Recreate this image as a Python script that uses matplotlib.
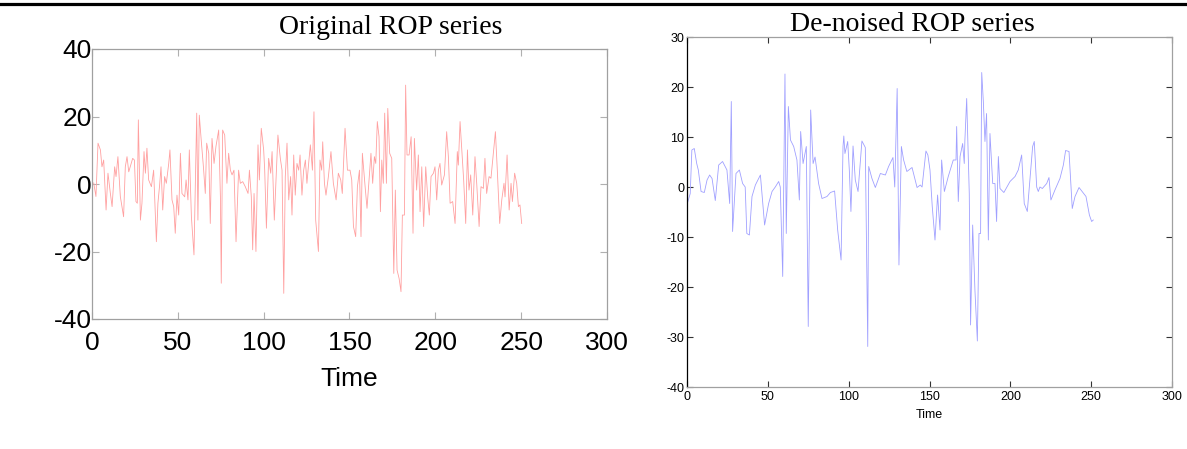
import matplotlib
matplotlib.use("Agg")
import matplotlib.pyplot as plt
from matplotlib.lines import Line2D

# original ROP series (time, value)
orig_t = [1, 2.3, 3.5, 4.9, 5.8, 6.8, 8.2, 9.3, 10.7, 11.7, 13.2, 14, 15.1, 16.5, 18.4, 19.4, 20.4, 21.4,
          23.7, 24.7, 25.6, 26.4, 27, 28.2, 29.1, 30.3, 31.1, 32, 33, 34.6, 35.9, 37.5, 38.4, 39.4, 40.2,
          41.2, 42.3, 43.3, 44.7, 45.4, 46.6, 47.6, 48.5, 49.5, 50.5, 51.5, 52.4, 54, 54.8, 55.9, 56.7,
          57.9, 59.4, 61, 61.7, 62.5, 63.7, 64.9, 66, 66.8, 68, 68.9, 69.9, 71.1, 72.2, 73.8, 74.8, 75.3,
          76.1, 77.3, 78.6, 79.6, 80.6, 81.6, 82.7, 83.9, 85.4, 86.4, 87.8, 89.3, 90.9, 91.7, 92.8, 93.6,
          94.4, 95.5, 96.7, 97.5, 98.6, 100, 100.6, 101.6, 102.9, 104.1, 104.9, 106.2, 107.4, 108.3,
          109.7, 110.7, 111.7, 112.6, 113.6, 114.6, 115.7, 116.5, 117.5, 118.4, 119.4, 120.4, 121.2,
          122.3, 123.3, 124.3, 125.2, 126.2, 127.2, 128.4, 129.3, 130.3, 131.9, 132.8, 133.8, 134.4,
          135.4, 136.3, 137.7, 139.2, 140.6, 142.2, 143.5, 144.9, 145.8, 147.4, 148.8, 150.3, 151.3,
          152.3, 153.6, 154.6, 155.8, 156.7, 157.5, 159.1, 160.2, 161.4, 162.5, 163.5, 164.5, 165.3,
          166.2, 167.2, 168, 168.8, 169.7, 170.5, 171.5, 172.3, 173.4, 174.6, 175.8, 176.7, 177.7,
          178.9, 180, 180.8, 182, 182.7, 183.5, 184.7, 185.9, 187, 187.8, 189.1, 190.1, 191.1, 192.1,
          193.2, 194.4, 195.6, 196.5, 197.5, 198.9, 199.8, 200.8, 201.8, 202.7, 203.7, 205.3, 206.6,
          207.6, 208.6, 210.1, 211.5, 212.8, 213.4, 214.4, 215.4, 216.5, 217.7, 218.7, 219.6, 220.6,
          221.8, 223.1, 224.1, 225.5, 226.6, 228, 228.9, 229.9, 231.3, 232.4, 233.8, 235, 236.1, 237.5,
          238.7, 240, 240.6, 241.8, 243, 244.1, 244.9, 246.2, 247.4, 248.4, 249.3, 250.3]
orig_v = [0.3, -3.7, 12.1, 10.1, 5.1, 7.1, -7.7, 3.2, -2.8, -6.7, 5.1, 2.2, 8.1, -3.7, -9.7, 5.1, 8.1, 3.6,
          7.6, 7.1, -5.2, -5.7, 19, -10.7, -5.7, 9.6, 3.2, 10.6, 1.2, -0.8, 4.1, -17.1, -5.7, -0.3, 5.1,
          -7.7, 2.2, 0.2, 6.1, 10.1, -4.7, -6.7, -14.6, -3.3, -9.2, 9.1, -2.8, -3.8, 1.2, -4.7, 10.1,
          -9.7, -21, 21, -10.7, 20.4, 12.5, 5.1, -2.8, 12.1, 9.1, -11.7, 13.5, 6.1, 11.1, 16, -3.8, -29.4,
          16, 14.5, 0.2, 9.1, 4.1, 2.7, 4.1, -17.1, 4.1, 0.2, 0.7, -0.8, -2.8, 4.1, -3.8, -19.5,
          -2.8, -20, 11.6, 1.2, 16.5, 10.1, 4.1, -13.1, 7.6, 3.2, 9.6, -10.7, 4.1, 14.5,
          7.6, 4.1, -32.4, 2.2, 12.1, -4.7, 2.2, -9.2, 8.6, -3.3, 6.1, 4.1, 8.6,
          -3.3, 4.1, 7.1, 0.2, 6.1, 11.6, 4.1, 21.4, -10.7, -20, 7.1, 4.1, 12.5,
          0.2, -3.3, 2.2, 9.6, 0.2, -4.7, 3.2, 1.2, -2.8, 16.5, 4.1, 4.1, 1.2,
          -12.6, -15.6, -0.8, 4.1, -15.6, 9.1, -0.8, -7.2, 1.2, 9.1, 0.2, 8.1, 6.1,
          18.5, 14, -8.2, 7.1, 0.2, 21, 0.2, 22.4, 9.1, 7.6, -26.5, -1.8, -25.5,
          -28, -31.9, -9.2, -9.2, 29.3, 8.6, 8.6, 14, -14.6, 13.5, -1.8, 8.6, -8.2, 5.1,
          -12.6, 5.1, -4.2, -9.2, 2.2, 3.2, 5.1, -4.7, 4.1, 6.1, -0.3, 2.7, 15.5,
          8.1, -5.7, -5.2, -11.7, 9.6, 5.6, 18.5, 10.1, 1.2, -11.7, 10.1, -1.8, 2.7,
          -9.2, 8.1, 0.2, -12.6, -0.8, -1.3, 7.6, -2.8, 2.2, 1.7, 9.1, 15.5, 4.1, -11.7,
          -4.7, 0.2, -3.8, 8.6, -7.7, 0.2, -5.2, 3.2, 0.2, -6.7, -6.2, -11.7]

# de-noised ROP series (time, value)
den_t = [0, 2, 3, 4.5, 6, 7, 8.7, 10.7, 12.4, 14, 15.5, 17.5, 19.6, 22, 24.7, 26.4, 27.4, 28.2, 30.3,
         32.4, 34.4, 36, 37, 38.6, 40.2, 42.3, 44.3, 45.4, 48, 50.5, 52.6, 54.6, 56.7, 57.7, 59.2,
         60.6, 61.4, 62.7, 64, 66, 68, 69.5, 70.3, 71.8, 73.8, 75, 76.5, 78, 79.2, 81.4, 83.5, 86.6,
         88.7, 91.3, 93.2, 95.3, 96.5, 97, 97.7, 99.4, 100.4, 101.4, 102.7, 104.1, 105.8, 108.2,
         110.3, 111.8, 112.4, 114.4, 116.5, 119.6, 122.7, 124.7, 127.4, 128.5, 130, 131.1, 132.6,
         134, 136, 139.2, 142.3, 144.3, 145.4, 147.8, 149, 150.3, 151.7, 153.4, 155, 156.5, 157.5,
         159.2, 161.6, 164.7, 166.4, 166.8, 167.8, 168.9, 170.5, 171.5, 171.9, 173, 174.6, 175.4,
         176.7, 178.1, 179.6, 180.6, 181.6, 182.3, 183.3, 184.3, 185.3, 186.4, 187.4, 189.1, 190.5,
         191.5, 192.6, 193.6, 196, 199.8, 202.9, 204.9, 207, 208.6, 210.5, 212.1, 213.8, 214.8,
         216.3, 217.3, 218.3, 219.8, 222.5, 223.9, 225.1, 227.6, 230.7, 232.8, 234.2, 236.3, 238.3,
         240, 242.5, 246.8, 248.9, 250.3, 251.3]
den_v = [-3.5, -1.3, 7.4, 7.7, 4.7, 3.4, -0.9, -1.1, 1.4, 2.4, 1.7, -2.7, 4.4, 5.1, 3.4, -3.3, 17.1, -8.9,
         2.7, 3.4, 0.7, 0, -9.3, -9.6, -1.9, 0.4, 1.7, 2.4, -7.6, -3.3, -0.9, 0, 1.1, 0, -17.9,
         22.6, -9.3, 16.1, 9.4, 8.1, 5.4, -2.6, 11.1, 4.7, 8.1, -27.9, 15.4, 4.7, 6, 0.7, -2.3, -1.9,
         -1.1, -0.8, -8.6, -14.6, 8.1, 10.2, 6.7, 9.1, 3.4, -4.9, 8.2, 1.4, -0.9, 9.2,
         7.9, -31.9, 4.1, 1.7, -0.1, 2.7, 2.4, 4.1, 5.9, 0, 19.7, -15.6, 8.1,
         5.4, 3.1, 3.9, -0.1, 0.4, 0, 7.2, 6.4, 3.4, -3.9, -10.6, -1.6, -8.6, 5.4,
         -0.9, 2.1, 5.4, 5.4, 12.1, -2.9, 6.1, 8.7, 4.7, 9.4, 17.7, -1.3, -27.6,
         -7.6, -20.6, -30.8, -9.3, -9.3, 22.9, 17.1, 9.1, 14.7, -10.6, 10.7, 0.7, 0.7,
         -6.9, 6.1, -0.3, -1.1, 1.1, 2.1, 3.4, 6.4, -3.3, -4.9, 1.4, 8.1, 9.1,
         0, -0.9, 0, -0.3, 0.7, 1.9, -2.6, -0.6, 1.7, 4.4, 7.3, 7.1, -4.3,
         -1.9, -0.1, -1.9, -5.6, -6.9, -6.6]

x_ticks = [0, 50, 100, 150, 200, 250, 300]
left_y_ticks = [-40, -20, 0, 20, 40]
right_y_ticks = [-40, -30, -20, -10, 0, 10, 20, 30]

plt.rcParams['axes.unicode_minus'] = False

fig = plt.figure(figsize=(11.87, 4.49), dpi=100)

# rule line at the very top (page edge of the scan)
fig.add_artist(Line2D([0, 1], [1 - 3.5 / 449, 1 - 3.5 / 449], color='black', lw=2.3))

sans = ['Liberation Sans', 'DejaVu Sans']
serif = ['Liberation Serif', 'DejaVu Serif']

# left panel - original series
ax1 = fig.add_axes([92 / 1187, 1 - 319 / 449, 515 / 1187, 270 / 449])
ax1.plot(orig_t, orig_v, color='#ffa0a0', lw=0.6)
ax1.set_xlim(0, 300)
ax1.set_ylim(-40, 40)
ax1.set_xticks(x_ticks)
ax1.set_yticks(left_y_ticks)
ax1.tick_params(direction='in', length=5, color='#b0b0b0', labelsize=19, pad=9,
                top=True, right=True)
ax1.tick_params(axis='y', pad=0)
for lbl in ax1.get_xticklabels() + ax1.get_yticklabels():
    lbl.set_family(sans)
for sp in ax1.spines.values():
    sp.set_color('#a0a0a0')
    sp.set_linewidth(0.9)
ax1.set_xlabel('Time', fontsize=19, family=sans, labelpad=8)
ax1.set_title('Original ROP series', fontsize=20, family=serif, pad=11, x=0.58)

# right panel - de-noised series
ax2 = fig.add_axes([687 / 1187, 1 - 387 / 449, 485 / 1187, 350 / 449])
ax2.plot(den_t, den_v, color='#a0a0ff', lw=0.6)
ax2.set_xlim(0, 300)
ax2.set_ylim(-40, 30)
ax2.set_xticks(x_ticks)
ax2.set_yticks(right_y_ticks)
ax2.tick_params(direction='in', length=4, color='#333333', labelsize=9, pad=3,
                top=True, right=True)
ax2.tick_params(axis='y', pad=2)
for lbl in ax2.get_xticklabels() + ax2.get_yticklabels():
    lbl.set_family(sans)
for sp in ax2.spines.values():
    sp.set_color('#a0a0a0')
    sp.set_linewidth(0.9)
ax2.spines['left'].set_color('black')
ax2.set_xlabel('Time', fontsize=9, family=sans, labelpad=4)
ax2.set_title('De-noised ROP series', fontsize=20, family=serif, pad=4, x=0.465)

fig.savefig('out.png', dpi=100)
